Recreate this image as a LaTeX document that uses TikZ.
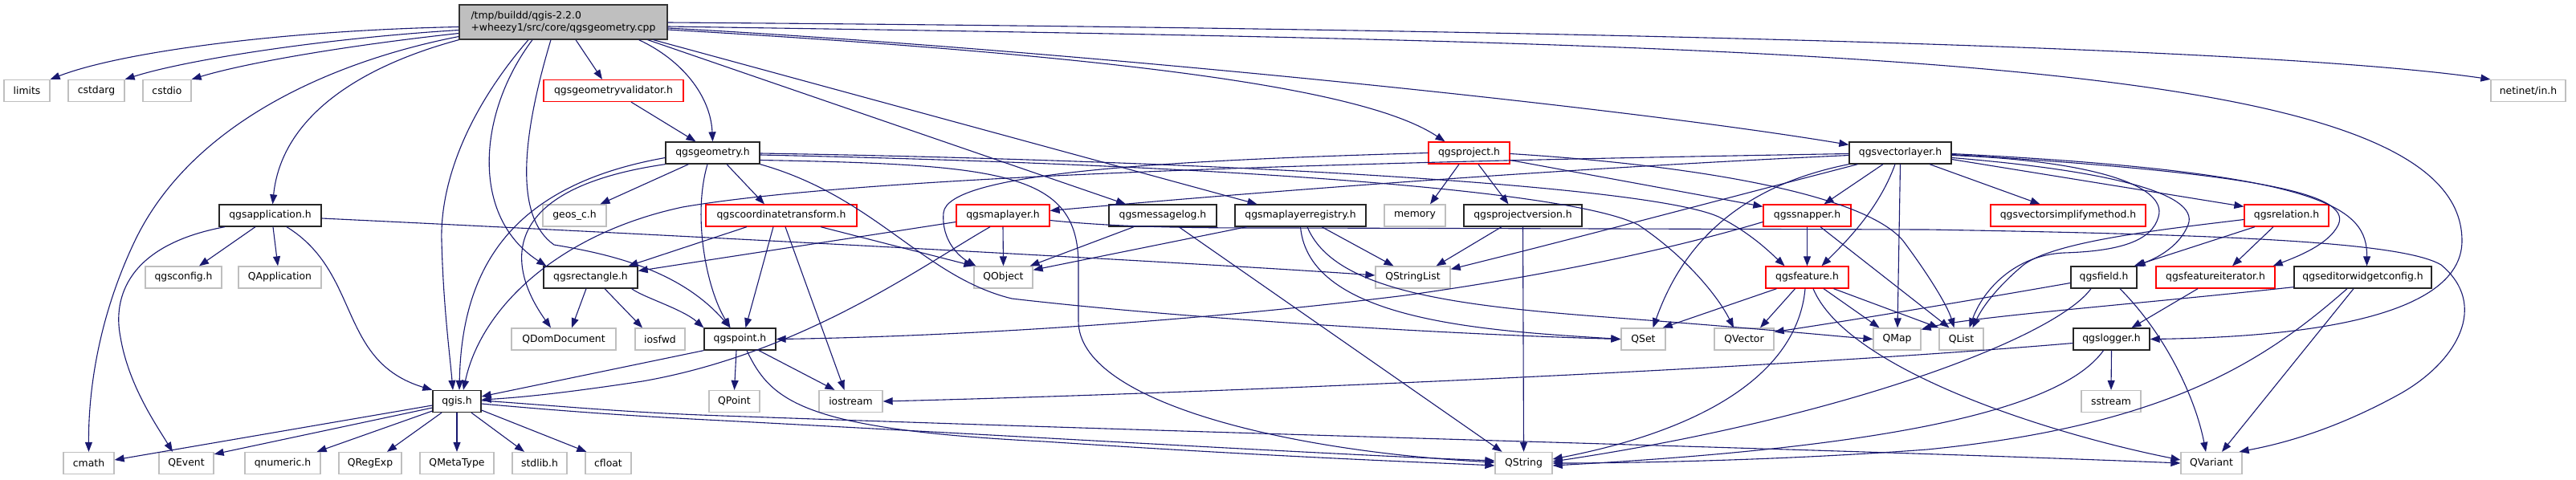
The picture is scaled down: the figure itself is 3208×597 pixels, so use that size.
\documentclass[tikz,border=0pt]{standalone}
\usepackage{fontspec}
\setmainfont{DejaVu Sans}
\usetikzlibrary{arrows.meta}
\definecolor{edgec}{HTML}{191970}
\definecolor{grayb}{HTML}{BFBFBF}
\definecolor{rootf}{HTML}{BFBFBF}
\definecolor{redb}{HTML}{FF0000}
\begin{document}
\begin{tikzpicture}[x=1pt,y=-1pt,
  box/.style={rectangle, inner sep=0pt, minimum height=27pt, line width=1.3pt, fill=white, font=\fontsize{12.4}{15}\selectfont},
  blk/.style={box, draw=black!85},
  gry/.style={box, draw=grayb},
  rdb/.style={box, draw=redb},
  dep/.style={draw=edgec, line width=1.1pt, -{Triangle[length=12pt,width=9pt]}}]
\fill[white] (0,0) rectangle (3208,597);
\useasboundingbox (0,0) rectangle (3208,597);
% ---------- nodes ----------
\node[box, draw=black!80, fill=rootf, minimum width=259pt, minimum height=43pt, align=left] (R) at (701.5,27.5) {/tmp/buildd/qgis-2.2.0\\+wheezy1/src/core/qgsgeometry.cpp};
% row 2
\node[gry, minimum width=57pt] (limits) at (33.5,113) {limits};
\node[gry, minimum width=70pt] (cstdarg) at (120,113) {cstdarg};
\node[gry, minimum width=60pt] (cstdio) at (208,113) {cstdio};
\node[rdb, minimum width=174pt] (validator) at (764,113) {qgsgeometryvalidator.h};
\node[gry, minimum width=93pt] (netinet) at (3148.5,113) {netinet/in.h};
% row 3
\node[blk, minimum width=117pt] (geometry) at (887.5,190.5) {qgsgeometry.h};
\node[rdb, minimum width=101pt] (project) at (1829.5,190.5) {qgsproject.h};
\node[blk, minimum width=127pt] (vlayer) at (2366.5,190.5) {qgsvectorlayer.h};
% row 4
\node[blk, minimum width=127pt] (app) at (336.5,268.5) {qgsapplication.h};
\node[gry, minimum width=79pt] (geos) at (715.5,268.5) {geos\_c.h};
\node[rdb, minimum width=188pt] (coordtr) at (973,268.5) {qgscoordinatetransform.h};
\node[rdb, minimum width=116pt] (maplayer) at (1249,268.5) {qgsmaplayer.h};
\node[blk, minimum width=134pt] (msglog) at (1448,268.5) {qgsmessagelog.h};
\node[blk, minimum width=163pt] (registry) at (1619.5,268.5) {qgsmaplayerregistry.h};
\node[gry, minimum width=76pt] (memory) at (1762,268.5) {memory};
\node[blk, minimum width=147pt] (projver) at (1896.5,268.5) {qgsprojectversion.h};
\node[rdb, minimum width=109pt] (snapper) at (2250.5,268.5) {qgssnapper.h};
\node[rdb, minimum width=193pt] (simplify) at (2575.5,268.5) {qgsvectorsimplifymethod.h};
\node[rdb, minimum width=105pt] (relation) at (2847.5,268.5) {qgsrelation.h};
% row 5
\node[gry, minimum width=95pt] (qgsconfig) at (228.5,345.5) {qgsconfig.h};
\node[gry, minimum width=103pt] (qapp) at (348.5,345.5) {QApplication};
\node[blk, minimum width=117pt] (rect) at (735.5,345.5) {qgsrectangle.h};
\node[gry, minimum width=73pt] (qobject) at (1249.5,345.5) {QObject};
\node[gry, minimum width=93pt] (qstringlist) at (1759.5,345.5) {QStringList};
\node[rdb, minimum width=103pt] (feature) at (2250.5,345.5) {qgsfeature.h};
\node[blk, minimum width=82pt] (field) at (2620,345.5) {qgsfield.h};
\node[rdb, minimum width=148pt] (featiter) at (2759,345.5) {qgsfeatureiterator.h};
\node[blk, minimum width=171pt] (editcfg) at (2942.5,345.5) {qgseditorwidgetconfig.h};
% row 6
\node[gry, minimum width=130pt] (qdom) at (702,422.5) {QDomDocument};
\node[gry, minimum width=62pt] (iosfwd) at (822,422.5) {iosfwd};
\node[blk, minimum width=89pt] (point) at (921.5,422.5) {qgspoint.h};
\node[gry, minimum width=55pt] (qset) at (2046.5,422.5) {QSet};
\node[gry, minimum width=74pt] (qvector) at (2172,422.5) {QVector};
\node[gry, minimum width=59pt] (qmap) at (2362.5,422.5) {QMap};
\node[gry, minimum width=55pt] (qlist) at (2442.5,422.5) {QList};
\node[blk, minimum width=95pt] (logger) at (2629.5,422.5) {qgslogger.h};
% row 7
\node[blk, minimum width=60pt] (qgis) at (569,500) {qgis.h};
\node[gry, minimum width=63pt] (qpoint) at (914.5,500) {QPoint};
\node[gry, minimum width=79pt] (iostream) at (1059.5,500) {iostream};
\node[gry, minimum width=74pt] (sstream) at (2629,500) {sstream};
% row 8
\node[gry, minimum width=63pt] (cmath) at (110.5,577) {cmath};
\node[gry, minimum width=68pt] (qevent) at (232,577) {QEvent};
\node[gry, minimum width=94pt] (qnumeric) at (352,577) {qnumeric.h};
\node[gry, minimum width=78pt] (qregexp) at (461,577) {QRegExp};
\node[gry, minimum width=92pt] (qmetatype) at (569,577) {QMetaType};
\node[gry, minimum width=68pt] (stdlib) at (672,577) {stdlib.h};
\node[gry, minimum width=57pt] (cfloat) at (757.5,577) {cfloat};
\node[gry, minimum width=71pt] (qstring) at (1897.5,577) {QString};
\node[gry, minimum width=76pt] (qvariant) at (2754,577) {QVariant};
% ---------- edges: root ----------
\draw[dep] ([yshift=-6pt]R.west) .. controls (350,38) and (150,65) .. (limits.north east);
\draw[dep] ([yshift=-10pt]R.west) .. controls (400,48) and (230,75) .. (cstdarg.north east);
\draw[dep] ([yshift=-14pt]R.west) .. controls (420,58) and (300,80) .. (cstdio.north east);
\draw[dep] ([yshift=-18pt]R.west) .. controls (420,75) and (240,150) .. (168,300) .. controls (125,390) and (110,480) .. (cmath.north);
\draw[dep] (R.south west) .. controls (440,85) and (350,150) .. ([xshift=3pt]app.north);
\draw[dep] ([xshift=-43.5pt]R.south) .. controls (580,140) and (548,230) .. (550,300) .. controls (552,380) and (560,440) .. ([xshift=-5pt]qgis.north);
\draw[dep] ([xshift=-38.5pt]R.south) .. controls (595,140) and (585,270) .. ([xshift=4pt]rect.north west);
\draw[dep] ([xshift=-15.5pt]R.south) .. controls (650,170) and (640,270) .. (690,305) .. controls (770,318) and (850,340) .. ([xshift=-12pt]point.north);
\draw[dep] ([xshift=15.5pt]R.south) -- ([xshift=-14pt]validator.north);
\draw[dep] ([xshift=-36pt]R.south east) .. controls (850,75) and (885,120) .. (geometry.north);
\draw[dep] ([xshift=-25pt]R.south east) -- ([xshift=-46pt]msglog.north);
\draw[dep] ([xshift=-18pt]R.south east) -- ([xshift=-54pt]registry.north);
\draw[dep] ([yshift=-9.5pt]R.east) .. controls (1400,70) and (1700,110) .. ([xshift=-30pt]project.north);
\draw[dep] ([yshift=-7.5pt]R.east) .. controls (1300,60) and (2000,130) .. ([yshift=-4pt]vlayer.north west);
\draw[dep] ([yshift=-0.5pt]R.east) .. controls (1800,35) and (2800,55) .. (netinet.north west);
\draw[dep] ([yshift=-5.5pt]R.east) .. controls (2300,55) and (3066,70) .. (3066,300) .. controls (3066,400) and (2850,420) .. (logger.east);
% validator
\draw[dep] ([xshift=22pt]validator.south) -- ([xshift=-21pt]geometry.north);
% ---------- geometry ----------
\draw[dep] ([xshift=-30pt]geometry.south) -- ([xshift=32pt]geos.north);
\draw[dep] ([yshift=-6pt]geometry.west) .. controls (640,230) and (575,330) .. ([xshift=3pt]qgis.north);
\draw[dep] (geometry.south west) .. controls (620,235) and (630,330) .. ([xshift=-16pt]qdom.north);
\draw[dep] ([xshift=-6.5pt]geometry.south) .. controls (862,270) and (880,360) .. ([xshift=-12pt]point.north);
\draw[dep] ([xshift=17.5pt]geometry.south) -- ([xshift=-21pt]coordtr.north);
\draw[dep] ([yshift=-9pt]geometry.east) .. controls (1250,205) and (1343,215) .. (1343,330) -- (1343,400) .. controls (1343,500) and (1600,562) .. ([yshift=1pt]qstring.west);
\draw[dep] ([yshift=-2.5pt]geometry.east) .. controls (1500,205) and (1950,235) .. (2040,280) .. controls (2100,320) and (2140,370) .. ([xshift=-13pt]qvector.north);
\draw[dep] ([yshift=-0.5pt]geometry.east) .. controls (1500,200) and (2050,230) .. (2140,270) .. controls (2180,290) and (2205,315) .. ([xshift=-28pt]feature.north);
\draw[dep] (geometry.south east) .. controls (1090,245) and (1150,345) .. (1260,372) .. controls (1500,400) and (1850,418) .. (qset.west);
% ---------- coordinatetransform ----------
\draw[dep] ([xshift=-43pt]coordtr.south) -- ([xshift=47pt]rect.north);
\draw[dep] ([xshift=-10pt]coordtr.south) -- ([xshift=7pt]point.north);
\draw[dep] ([xshift=5pt]coordtr.south) -- ([xshift=-8pt]iostream.north);
\draw[dep] ([xshift=49pt]coordtr.south) -- (qobject.north west);
% ---------- maplayer ----------
\draw[dep] (maplayer.south) -- (qobject.north);
\draw[dep] ([xshift=-16pt]maplayer.south) .. controls (1150,330) and (1000,440) .. (800,475) .. controls (700,490) and (650,495) .. ([yshift=2pt]qgis.east);
\draw[dep] ([yshift=-8pt]maplayer.west) -- ([yshift=8pt]rect.east);
\draw[dep] ([yshift=-6pt]maplayer.east) .. controls (1400,284) and (1500,284) .. (1600,284) -- (2400,286) .. controls (2750,292) and (2990,300) .. (3040,330) .. controls (3100,380) and (3060,450) .. (2990,490) .. controls (2900,540) and (2830,555) .. ([xshift=-4pt]qvariant.north east);
% ---------- messagelog ----------
\draw[dep] ([xshift=-36pt]msglog.south) -- ([xshift=-4pt]qobject.north east);
\draw[dep] ([xshift=20pt]msglog.south) -- ([xshift=-27pt]qstring.north);
% ---------- registry ----------
\draw[dep] ([xshift=-67pt]registry.south) -- ([yshift=-5pt]qobject.north east);
\draw[dep] ([xshift=26.5pt]registry.south) -- ([xshift=-24pt]qstringlist.north);
\draw[dep] (registry.south) .. controls (1630,400) and (1850,412) .. (qset.west);
\draw[dep] ([xshift=8.5pt]registry.south) .. controls (1660,360) and (1800,380) .. (2000,395) .. controls (2200,410) and (2300,420) .. (qmap.west);
% ---------- project ----------
\draw[dep] ([xshift=-12.5pt]project.south) -- ([xshift=19pt]memory.north);
\draw[dep] ([xshift=11.5pt]project.south) -- ([xshift=-18pt]projver.north);
\draw[dep] ([yshift=-9pt]project.east) -- ([yshift=-3pt]snapper.north west);
\draw[dep] (project.west) .. controls (1450,200) and (1180,215) .. (1175,265) .. controls (1172,300) and (1195,320) .. ([xshift=3pt]qobject.north west);
\draw[dep] ([yshift=-1pt]project.east) .. controls (2100,205) and (2320,240) .. (2370,300) .. controls (2400,340) and (2425,380) .. ([xshift=-9pt]qlist.north);
% ---------- projectversion ----------
\draw[dep] ([xshift=-26.5pt]projver.south) -- ([xshift=29pt]qstringlist.north);
\draw[dep] (projver.south) -- (qstring.north);
% ---------- vectorlayer ----------
\draw[dep] ([yshift=-3pt]vlayer.west) .. controls (1900,212) and (1500,245) .. ([yshift=6pt]maplayer.east);
\draw[dep] ([yshift=-1pt]vlayer.west) .. controls (1800,200) and (1100,215) .. (850,258) .. controls (700,290) and (600,380) .. ([xshift=8pt]qgis.north);
\draw[dep] ([xshift=-53pt]vlayer.south) .. controls (2100,260) and (1950,300) .. ([yshift=-4pt]qstringlist.north east);
\draw[dep] ([xshift=-21.5pt]vlayer.south) -- ([xshift=21pt]snapper.north);
\draw[dep] ([xshift=-6.5pt]vlayer.south) .. controls (2340,260) and (2300,300) .. ([xshift=18pt]feature.north);
\draw[dep] (vlayer.south) -- ([xshift=0.5pt]qmap.north);
\draw[dep] (vlayer.south west) .. controls (2150,235) and (2090,320) .. ([xshift=12pt]qset.north);
\draw[dep] ([xshift=36.5pt]vlayer.south) -- ([xshift=-35pt]simplify.north);
\draw[dep] ([yshift=-8pt]vlayer.east) -- ([yshift=-3pt]relation.north west);
\draw[dep] ([yshift=-3pt]vlayer.east) .. controls (2600,200) and (2700,230) .. (2688,270) .. controls (2680,300) and (2640,313) .. (2570,315) .. controls (2510,318) and (2470,360) .. ([xshift=10pt]qlist.north);
\draw[dep] ([yshift=-6pt]vlayer.east) .. controls (2620,212) and (2740,240) .. (2725,280) .. controls (2715,305) and (2690,320) .. ([xshift=-2pt]field.north east);
\draw[dep] ([yshift=-2pt]vlayer.east) .. controls (2800,215) and (2930,240) .. (2912,280) .. controls (2900,305) and (2860,320) .. ([xshift=-3pt]featiter.north east);
\draw[dep] ([yshift=-1pt]vlayer.east) .. controls (2900,215) and (2948,260) .. ([xshift=5pt]editcfg.north);
% ---------- relation ----------
\draw[dep] ([yshift=-5pt]relation.west) .. controls (2700,285) and (2560,300) .. (2520,330) .. controls (2490,355) and (2470,380) .. ([xshift=14pt]qlist.north);
\draw[dep] ([xshift=-39.5pt]relation.south) -- ([xshift=-4pt]field.north east);
\draw[dep] ([xshift=-16.5pt]relation.south) -- ([xshift=21pt]featiter.north);
% ---------- feature ----------
\draw[dep] ([xshift=-38pt]feature.south) -- ([xshift=-4pt]qset.north east);
\draw[dep] ([xshift=-15pt]feature.south) -- ([xshift=20pt]qvector.north);
\draw[dep] ([xshift=-2.5pt]feature.south) .. controls (2240,450) and (2150,530) .. ([yshift=5pt]qstring.east);
\draw[dep] ([xshift=7.5pt]feature.south) .. controls (2300,460) and (2550,540) .. ([yshift=4pt]qvariant.west);
\draw[dep] ([xshift=20.5pt]feature.south) -- ([xshift=-22pt]qmap.north);
\draw[dep] ([xshift=33pt]feature.south) -- (qlist.north west);
% ---------- snapper ----------
\draw[dep] (snapper.south) -- (feature.north);
\draw[dep] ([xshift=16.5pt]snapper.south) -- ([xshift=-15pt]qlist.north);
\draw[dep] ([yshift=-8pt]snapper.west) .. controls (2100,305) and (1950,340) .. (1750,368) .. controls (1450,405) and (1150,420) .. (point.east);
% ---------- field ----------
\draw[dep] ([yshift=-7pt]field.west) .. controls (2450,375) and (2300,400) .. ([yshift=9pt]qvector.east);
\draw[dep] ([xshift=-16pt]field.south) .. controls (2560,420) and (2300,520) .. ([yshift=2pt]qstring.east);
\draw[dep] ([xshift=20pt]field.south) .. controls (2700,420) and (2735,500) .. ([xshift=-7pt]qvariant.north);
% ---------- featureiterator ----------
\draw[dep] ([xshift=-22pt]featiter.south) -- ([xshift=25pt]logger.north);
% ---------- editorwidgetconfig ----------
\draw[dep] ([yshift=2pt]editcfg.south west) .. controls (2650,380) and (2450,395) .. ([yshift=12pt]qmap.east);
\draw[dep] ([xshift=-19.5pt]editcfg.south) .. controls (2820,450) and (2700,530) .. (2400,560) .. controls (2200,575) and (2000,577) .. (qstring.east);
\draw[dep] ([xshift=-11.5pt]editcfg.south) -- ([xshift=13pt]qvariant.north);
% ---------- logger ----------
\draw[dep] ([yshift=-5pt]logger.west) .. controls (2200,460) and (1500,490) .. (iostream.east);
\draw[dep] (logger.south) -- (sstream.north);
\draw[dep] ([xshift=-10pt]logger.south) .. controls (2560,520) and (2300,560) .. ([yshift=-3pt]qstring.east);
% ---------- application ----------
\draw[dep] ([xshift=-18.5pt]app.south) -- ([xshift=19.5pt]qgsconfig.north);
\draw[dep] ([xshift=3.5pt]app.south) -- ([xshift=-2.5pt]qapp.north);
\draw[dep] ([xshift=20.5pt]app.south) .. controls (450,340) and (420,450) .. (qgis.north west);
\draw[dep] ([xshift=-56.5pt]app.south) .. controls (160,305) and (140,370) .. (150,420) .. controls (160,480) and (195,530) .. ([xshift=-17pt]qevent.north);
\draw[dep] ([yshift=-3.5pt]app.east) .. controls (900,296) and (1500,328) .. ([yshift=2.5pt]qstringlist.west);
% ---------- rectangle ----------
\draw[dep] ([xshift=-5.5pt]rect.south) -- ([xshift=10pt]qdom.north);
\draw[dep] ([xshift=17.5pt]rect.south) -- ([xshift=-22pt]iosfwd.north);
\draw[dep] ([xshift=-8pt]rect.south east) .. controls (800,370) and (850,385) .. (point.north west);
% ---------- point ----------
\draw[dep] (point.south west) -- ([yshift=6pt]qgis.east);
\draw[dep] ([xshift=-4.5pt]point.south) -- (qpoint.north);
\draw[dep] ([xshift=23.5pt]point.south) -- ([xshift=-20pt]iostream.north);
\draw[dep] ([xshift=8.5pt]point.south) .. controls (960,500) and (1000,535) .. (1300,550) .. controls (1600,570) and (1800,577) .. ([yshift=-3pt]qstring.west);
% ---------- qgis ----------
\draw[dep] ([yshift=-5pt]qgis.west) -- ([yshift=4pt]cmath.east);
\draw[dep] ([yshift=-8pt]qgis.west) -- ([yshift=-3pt]qevent.north east);
\draw[dep] ([yshift=-12pt]qgis.west) -- ([xshift=-5pt]qnumeric.north east);
\draw[dep] ([xshift=-19pt]qgis.south) -- ([xshift=21pt]qregexp.north);
\draw[dep] (qgis.south) -- (qmetatype.north);
\draw[dep] ([xshift=18pt]qgis.south) -- ([xshift=-19pt]stdlib.north);
\draw[dep] ([yshift=-11pt]qgis.east) -- ([xshift=2pt]cfloat.north west);
\draw[dep] ([yshift=-3pt]qgis.east) .. controls (700,512) and (780,518) .. (900,524) .. controls (1300,545) and (1650,566) .. ([yshift=3pt]qstring.west);
\draw[dep] ([yshift=1pt]qgis.east) .. controls (700,506) and (780,514) .. (900,518) .. controls (1600,543) and (2300,560) .. (qvariant.west);
\end{tikzpicture}
\end{document}
